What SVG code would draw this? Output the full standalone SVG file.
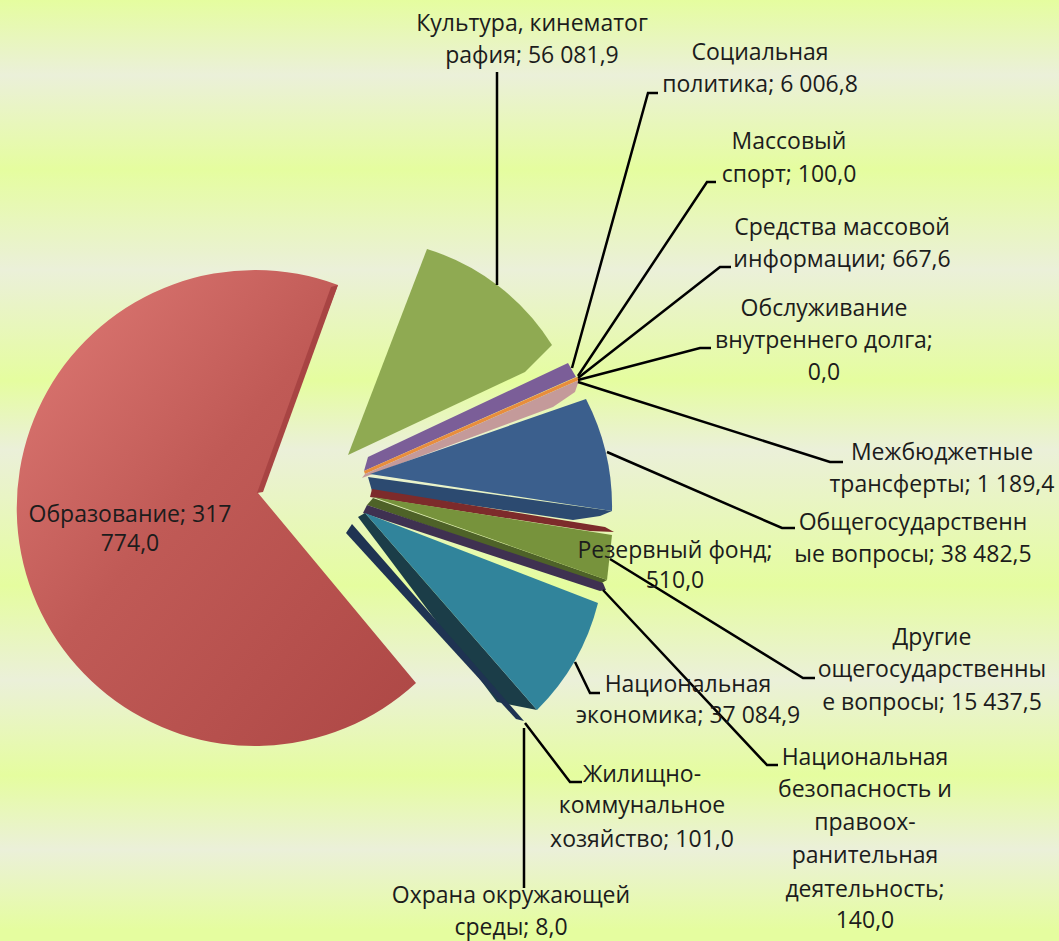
<svg xmlns="http://www.w3.org/2000/svg" width="1059" height="941" viewBox="0 0 1059 941">
<defs>
<linearGradient id="bg" x1="0" y1="0" x2="0" y2="941" gradientUnits="userSpaceOnUse">
<stop offset="0" stop-color="#e5fd9f"/>
<stop offset="0.08" stop-color="#ebf0d9"/>
<stop offset="0.18" stop-color="#e5fd9f"/>
<stop offset="0.287" stop-color="#ebf0d9"/>
<stop offset="0.404" stop-color="#e5fd9f"/>
<stop offset="0.478" stop-color="#ebf0d9"/>
<stop offset="0.622" stop-color="#e5fd9f"/>
<stop offset="0.723" stop-color="#ebf0d9"/>
<stop offset="0.824" stop-color="#e5fd9f"/>
<stop offset="0.903" stop-color="#ebf0d9"/>
<stop offset="0.988" stop-color="#e5fd9f"/>
</linearGradient>
<linearGradient id="red" x1="0" y1="0" x2="1" y2="1">
<stop offset="0" stop-color="#e07b76"/>
<stop offset="0.45" stop-color="#c05a56"/>
<stop offset="1" stop-color="#ad4745"/>
</linearGradient>
</defs>
<style>
.lbl{font-family:"Open Sans","Noto Sans","DejaVu Sans",sans-serif;font-size:23px;fill:#1c1c1c;text-anchor:middle}
.ld{fill:none;stroke:#000;stroke-width:2.5;stroke-linejoin:miter}
</style>
<rect width="1059" height="941" fill="url(#bg)"/>

<g id="slice-obrazovanie">
<path d="M258,493 L338,285 A238,238 0 1 0 416,683 Z" fill="url(#red)"/>
<path d="M331,287 L338,285 L263,492 L257,493 Z" fill="#a84443"/>
</g>
<g id="slice-kultura">
<path d="M348,455 L427,249 A225,225 0 0 1 552,345 L525,372 Z" fill="#8faa52"/>
</g>
<g id="slice-socialnaya">
<path d="M368,457 L568,363 L576,377 L364,471 Z" fill="#7b5e98"/>
</g>
<g id="slice-sport">
<path d="M364,471 L577,377 L579,380 L365,474 Z" fill="#e88d3c"/>
</g>
<g id="slice-smi">
<path d="M365,474 L579,380 L575,392 L553,407 L362,478 Z" fill="#c49a9a"/>
</g>
<g id="slice-obschegos">
<path d="M368,477 L612,511 L600,516 L573,520 L372,491 Z" fill="#2c4a70"/>
<path d="M370,474 L586,399 A235,235 0 0 1 612,511 Z" fill="#3b5f8d"/>
</g>
<g id="slice-mezhbyudzhet">
<path d="M372,489 L605,527 L614,532 L590,531 L370,497 Z" fill="#7d2b2b"/>
</g>
<g id="slice-drugie">
<path d="M373,498 L607,580 L600,584 L367,505 Z" fill="#4e6228"/>
<path d="M373,497 L612,535 L607,580 Z" fill="#77933c"/>
</g>
<g id="slice-bezopasnost">
<path d="M367,505 L603,583 L606,590 L600,591 L363,513 Z" fill="#3f3151"/>
</g>
<g id="slice-ekonomika">
<path d="M358,517 L365,513 L537,710 L497,702 Z" fill="#1b3d48"/>
<path d="M365,513 L598,603 A230,230 0 0 1 537,710 Z" fill="#31849b"/>
</g>
<g id="slice-zhkh">
<path d="M352,524 L524,721 L516,719 L346,533 Z" fill="#1f3352"/>
</g>

<g id="connectors">
<path class="ld" d="M497,72 L497,285"/>
<path class="ld" d="M658,93 L648,93 L572,368"/>
<path class="ld" d="M716,182 L707,182 L578,376"/>
<path class="ld" d="M731,267 L720,267 L578,378"/>
<path class="ld" d="M711,348 L700,348 L578,380"/>
<path class="ld" d="M843,462 L830,462 L578,382"/>
<path class="ld" d="M795,528 L782,528 L607,452"/>
<path class="ld" d="M815,678 L803,678 L610,559"/>
<path class="ld" d="M600,693 L590,693 L575,662"/>
<path class="ld" d="M778,765 L767,765 L603,590"/>
<path class="ld" d="M582,782 L570,782 L525,723"/>
<path class="ld" d="M524,728 L524,888"/>
</g>

<g id="label-obrazovanie"><text class="lbl" x="130" y="522">Образование; 317</text><text class="lbl" x="130" y="551">774,0</text></g>
<g id="label-kultura"><text class="lbl" x="532" y="31">Культура, кинематог</text><text class="lbl" x="532" y="63">рафия; 56 081,9</text></g>
<g id="label-socialnaya"><text class="lbl" x="760" y="60">Социальная</text><text class="lbl" x="760" y="92">политика; 6 006,8</text></g>
<g id="label-sport"><text class="lbl" x="789" y="149">Массовый</text><text class="lbl" x="789" y="182">спорт; 100,0</text></g>
<g id="label-smi"><text class="lbl" x="842" y="235">Средства массовой</text><text class="lbl" x="842" y="267">информации; 667,6</text></g>
<g id="label-dolg"><text class="lbl" x="824" y="316">Обслуживание</text><text class="lbl" x="824" y="348">внутреннего долга;</text><text class="lbl" x="824" y="380">0,0</text></g>
<g id="label-mezhbyudzhet"><text class="lbl" x="942" y="460">Межбюджетные</text><text class="lbl" x="942" y="492">трансферты; 1 189,4</text></g>
<g id="label-obschegos"><text class="lbl" x="913" y="530">Общегосударственн</text><text class="lbl" x="913" y="562">ые вопросы; 38 482,5</text></g>
<g id="label-rezerv"><text class="lbl" x="675" y="558">Резервный фонд;</text><text class="lbl" x="675" y="588">510,0</text></g>
<g id="label-drugie"><text class="lbl" x="932" y="645">Другие</text><text class="lbl" x="932" y="677">ощегосударственны</text><text class="lbl" x="932" y="710">е вопросы; 15 437,5</text></g>
<g id="label-ekonomika"><text class="lbl" x="688" y="692">Национальная</text><text class="lbl" x="688" y="723">экономика; 37 084,9</text></g>
<g id="label-bezopasnost"><text class="lbl" x="865" y="765">Национальная</text><text class="lbl" x="865" y="797">безопасность и</text><text class="lbl" x="865" y="830">правоох-</text><text class="lbl" x="865" y="863">ранительная</text><text class="lbl" x="865" y="897">деятельность;</text><text class="lbl" x="865" y="928">140,0</text></g>
<g id="label-zhkh"><text class="lbl" x="642" y="782">Жилищно-</text><text class="lbl" x="642" y="813">коммунальное</text><text class="lbl" x="642" y="847">хозяйство; 101,0</text></g>
<g id="label-ohrana"><text class="lbl" x="511" y="903">Охрана окружающей</text><text class="lbl" x="511" y="935">среды; 8,0</text></g>
</svg>
